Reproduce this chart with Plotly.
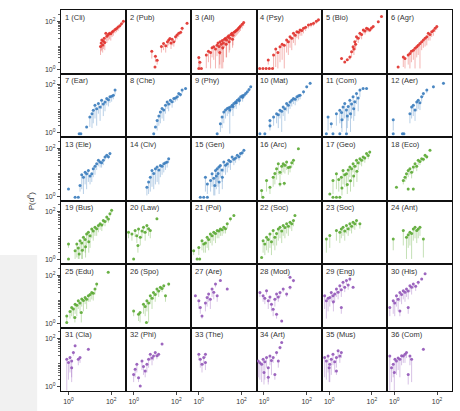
import plotly.graph_objects as go
from plotly.subplots import make_subplots

# ---- panel labels and colour groups ----
LABELS = ["1 (Cli)", "2 (Pub)", "3 (All)", "4 (Psy)", "5 (Bio)", "6 (Agr)",
          "7 (Ear)", "8 (Che)", "9 (Phy)", "10 (Mat)", "11 (Com)", "12 (Aer)",
          "13 (Ele)", "14 (Civ)", "15 (Gen)", "16 (Arc)", "17 (Geo)", "18 (Eco)",
          "19 (Bus)", "20 (Law)", "21 (Pol)", "22 (Soc)", "23 (Soc)", "24 (Ant)",
          "25 (Edu)", "26 (Spo)", "27 (Are)", "28 (Mod)", "29 (Eng)", "30 (His)",
          "31 (Cla)", "32 (Phi)", "33 (The)", "34 (Art)", "35 (Mus)", "36 (Com)"]
GROUPS = ["red"] * 6 + ["blue"] * 9 + ["green"] * 11 + ["purple"] * 10

X_TICKS = [1, 100]
X_TICK_TEXT = ["10<sup>0</sup>", "10<sup>2</sup>"]
Y_TICKS = [1, 100]
Y_TICK_TEXT = ["10<sup>0</sup>", "10<sup>2</sup>"]

# ---- data: log10 of x, log10 of y, log10 of lower end of error bar ----
p01_x = [1.50, 1.53, 1.56, 1.60, 1.63, 1.67, 1.70, 1.75, 1.80, 1.86, 1.92, 1.98, 2.04, 2.10, 2.18, 2.25, 2.32, 2.40, 2.48, 2.57]
p01_y = [0.95, 1.10, 1.22, 1.02, 1.18, 1.30, 1.12, 1.50, 1.38, 1.45, 1.50, 1.48, 1.56, 1.60, 1.66, 1.70, 1.76, 1.82, 1.90, 2.00]
p01_lo = [0.60, 0.75, 0.80, 0.70, 0.85, 0.95, 0.80, 1.20, 1.10, 1.20, 1.25, 1.20, 1.35, 1.40, 1.50, 1.55, 1.60, 1.70, 1.80, 1.90]

p02_x = [0.85, 1.00, 1.02, 1.10, 1.30, 1.40, 1.50, 1.58, 1.64, 1.70, 1.75, 1.80, 1.88, 1.96, 2.03, 2.11, 2.20, 2.27, 2.50]
p02_y = [0.75, 0.10, 0.55, 0.38, 0.95, 1.08, 0.98, 1.15, 1.22, 1.29, 1.10, 1.25, 1.15, 1.36, 1.43, 1.50, 1.55, 1.71, 1.92]
p02_lo = [0.45, 0.10, 0.30, 0.20, 0.70, 0.80, 0.70, 0.90, 1.00, 1.05, 0.85, 1.00, 0.95, 1.15, 1.25, 1.35, 1.45, 1.60, 1.85]

p03_x = [0.00, 0.00, 0.12, 0.05, 0.35, 0.45, 0.55, 0.62, 0.70, 0.78, 0.85, 0.90, 0.95, 1.00, 1.05, 1.10, 1.15, 1.20, 1.25, 1.30,
         1.35, 1.40, 1.45, 1.50, 1.55, 1.60, 1.65, 1.70, 1.75, 1.80, 1.85, 1.90, 1.95, 2.03, 2.10, 1.12, 1.28, 1.42, 1.58, 0.98]
p03_y = [0.04, 0.50, 0.04, 0.30, 0.60, 0.75, 0.70, 0.90, 0.94, 0.85, 1.00, 1.10, 0.95, 1.15, 1.05, 1.20, 1.10, 1.25, 1.30, 1.22,
         1.35, 1.40, 1.30, 1.45, 1.50, 1.42, 1.55, 1.58, 1.62, 1.65, 1.70, 1.75, 1.80, 1.88, 1.95, 0.90, 1.05, 1.15, 1.25, 0.70]
p03_lo = [0.04, 0.10, 0.04, 0.05, 0.05, 0.30, 0.04, 0.50, 0.40, 0.04, 0.55, 0.70, 0.04, 0.60, 0.04, 0.80, 0.30, 0.90, 1.00, 0.50,
          1.05, 1.10, 0.80, 1.20, 1.25, 1.00, 1.30, 1.35, 1.40, 1.45, 1.50, 1.55, 1.60, 1.70, 1.80, 0.04, 0.50, 0.70, 0.90, 0.20]

p04_x = [-0.20, -0.05, 0.10, 0.25, 0.40, 0.20, 0.45, 0.55, 0.65, 0.75, 0.85, 0.95, 1.06, 1.14, 1.22, 1.30, 1.38, 1.46, 1.54, 1.62,
         1.69, 1.77, 1.85, 1.95, 2.08, 2.20, 2.32, 2.45, 2.55]
p04_y = [0.04, 0.04, 0.04, 0.04, 0.04, 0.39, 0.60, 0.85, 0.70, 0.94, 1.05, 1.00, 1.22, 1.15, 1.36, 1.30, 1.50, 1.42, 1.57, 1.55,
         1.64, 1.62, 1.71, 1.75, 1.85, 1.88, 1.92, 2.00, 2.06]
p04_lo = [0.04, 0.04, 0.04, 0.04, 0.04, 0.20, 0.04, 0.10, 0.04, 0.30, 0.40, 0.04, 0.70, 0.60, 0.90, 0.80, 1.10, 1.00, 1.30, 1.25,
          1.40, 1.40, 1.50, 1.60, 1.70, 1.75, 1.80, 1.90, 1.98]

p05_x = [0.58, 0.73, 0.85, 0.97, 1.05, 1.12, 1.16, 1.20, 1.24, 1.28, 1.36, 1.44, 1.52, 1.60, 1.68, 1.75, 1.82, 1.90, 1.98, 2.06, 2.30, 2.45]
p05_y = [0.45, 0.31, 0.40, 0.52, 0.73, 0.94, 0.85, 1.15, 1.05, 1.36, 1.30, 1.50, 1.45, 1.64, 1.60, 1.71, 1.68, 1.64, 1.72, 1.78, 1.98, 2.20]
p05_lo = [0.40, 0.28, 0.35, 0.40, 0.50, 0.70, 0.60, 0.90, 0.80, 1.15, 1.10, 1.30, 1.25, 1.50, 1.45, 1.60, 1.55, 1.55, 1.62, 1.70, 1.92, 2.15]

p06_x = [0.18, 0.42, 0.50, 0.65, 0.73, 0.80, 0.89, 0.97, 1.05, 1.12, 1.20, 1.28, 1.36, 1.44, 1.52, 1.59, 1.67, 1.75, 1.83, 1.91, 1.99]
p06_y = [0.10, 0.52, 0.45, 0.60, 0.66, 0.75, 0.80, 0.88, 0.94, 1.00, 1.08, 1.15, 1.22, 1.30, 1.36, 1.50, 1.45, 1.57, 1.62, 1.71, 1.78]
p06_lo = [0.10, 0.10, 0.04, 0.20, 0.04, 0.30, 0.40, 0.04, 0.50, 0.60, 0.04, 0.80, 0.90, 0.95, 1.00, 1.20, 1.20, 1.35, 1.40, 1.55, 1.65]

p07_x = [0.50, 0.58, 0.85, 1.00, 1.10, 1.16, 1.24, 1.32, 1.40, 1.48, 1.55, 1.63, 1.71, 1.79, 1.87, 1.94, 2.02, 2.10, 2.18]
p07_y = [-0.03, -0.03, 0.25, 0.66, 0.80, 0.94, 1.15, 1.00, 1.22, 1.08, 1.36, 1.20, 1.29, 1.43, 1.38, 1.50, 1.52, 1.57, 1.78]
p07_lo = [-0.03, -0.03, 0.20, 0.25, 0.20, 0.40, 0.60, 0.30, 0.80, 0.50, 1.00, 0.70, 0.90, 1.15, 1.10, 1.25, 1.30, 1.40, 1.60]

p08_x = [0.94, 1.02, 1.10, 1.18, 1.25, 1.33, 1.41, 1.49, 1.57, 1.64, 1.72, 1.80, 1.88, 1.96, 2.04, 2.11, 2.19, 2.27, 2.43]
p08_y = [-0.03, 0.25, 0.52, 0.70, 0.87, 1.01, 0.95, 1.15, 1.29, 1.20, 1.36, 1.30, 1.43, 1.45, 1.50, 1.64, 1.60, 1.78, 1.85]
p08_lo = [-0.03, 0.20, 0.10, 0.30, 0.40, 0.60, 0.50, 0.80, 1.00, 0.90, 1.15, 1.05, 1.25, 1.30, 1.35, 1.50, 1.50, 1.65, 1.78]

p09_x = [0.86, 1.01, 1.09, 1.17, 1.25, 1.33, 1.40, 1.48, 1.56, 1.64, 1.72, 1.80, 1.88, 1.96, 2.04, 2.11, 2.19, 2.27, 2.35, 2.43,
         1.45, 1.60, 1.75, 1.90, 2.05]
p09_y = [-0.03, 0.38, 0.66, 0.87, 0.95, 1.01, 1.05, 1.08, 1.15, 1.22, 1.28, 1.36, 1.42, 1.50, 1.54, 1.57, 1.64, 1.71, 1.80, 1.92,
         0.95, 1.10, 1.25, 1.35, 1.48]
p09_lo = [-0.03, 0.04, 0.20, 0.40, 0.60, 0.70, 0.80, 0.85, 0.95, 1.00, 1.10, 1.20, 1.25, 1.35, 1.40, 1.45, 1.52, 1.60, 1.70, 1.85,
          -0.03, 0.70, 1.00, 1.15, 1.30]

p10_x = [-0.19, 0.04, 0.28, 0.28, 0.45, 0.59, 0.67, 0.75, 0.83, 0.90, 0.98, 1.06, 1.14, 1.22, 1.30, 1.38, 1.46, 1.54, 1.62, 1.69,
         1.85, 2.00, 2.16]
p10_y = [-0.03, -0.03, 0.52, 0.30, 0.66, 0.80, 0.75, 0.94, 0.90, 1.08, 1.00, 1.22, 1.15, 1.29, 1.36, 1.43, 1.40, 1.50, 1.55, 1.57,
         1.71, 1.92, 2.06]
p10_lo = [-0.03, -0.03, 0.10, 0.20, 0.30, 0.40, 0.20, 0.60, 0.04, 0.70, 0.50, 0.90, 0.80, 1.00, 1.10, 1.20, 1.15, 1.30, 1.35, 1.40,
          1.60, 1.85, 2.00]

p11_x = [-0.13, 0.18, 0.50, 0.81, -0.05, 0.10, 0.34, 0.50, 0.58, 0.65, 0.73, 0.81, 0.89, 0.97, 1.05, 1.12, 1.20, 1.28, 1.36, 1.44,
         1.59, 1.75, 0.60, 0.85, 1.00, 1.15]
p11_y = [-0.03, -0.03, -0.03, -0.03, 0.66, 0.38, 0.80, 0.94, 0.85, 1.08, 1.22, 0.95, 1.10, 1.36, 1.20, 1.50, 1.30, 1.64, 1.45, 1.78,
         1.85, 1.85, 0.55, 0.70, 0.80, 1.00]
p11_lo = [-0.03, -0.03, -0.03, -0.03, 0.10, 0.20, 0.30, 0.40, 0.20, 0.50, 0.60, 0.04, 0.50, 0.80, 0.60, 1.00, 0.70, 1.20, 0.90, 1.50,
          1.80, 1.80, 0.04, 0.20, 0.04, 0.50]

p12_x = [-0.05, -0.05, 0.38, 0.45, 0.73, 0.81, 0.89, 0.97, 1.05, 1.12, 1.20, 1.28, 1.36, 1.52, 1.83, 2.30]
p12_y = [-0.03, 0.55, -0.03, -0.03, 0.80, 1.08, 1.15, 0.95, 1.29, 1.36, 1.25, 1.50, 1.64, 1.78, 1.92, 2.06]
p12_lo = [-0.03, 0.10, -0.03, -0.03, 0.40, 0.60, 0.70, 0.50, 0.90, 1.00, 0.95, 1.30, 1.50, 1.65, 1.85, 2.00]

p13_x = [0.00, 0.31, 0.46, 0.54, 0.62, 0.70, 0.78, 0.85, 0.93, 1.01, 1.09, 1.16, 1.24, 1.32, 1.40, 1.48, 1.55, 1.63, 1.71, 1.79, 1.87, 1.94]
p13_y = [0.31, -0.03, -0.03, 0.45, 0.90, 0.80, 1.00, 0.94, 1.08, 0.85, 0.94, 1.15, 1.25, 1.36, 1.50, 1.43, 1.40, 1.50, 1.64, 1.71, 1.65, 1.78]
p13_lo = [0.31, -0.03, -0.03, 0.20, 0.30, 0.10, 0.50, 0.30, 0.60, 0.50, 0.60, 0.80, 0.90, 1.10, 1.25, 1.20, 1.20, 1.30, 1.50, 1.60, 1.55, 1.70]

p14_x = [0.62, 0.70, 0.78, 0.86, 0.94, 1.02, 1.10, 1.18, 1.25, 1.33, 1.41, 1.49, 1.57, 1.64]
p14_y = [0.38, 0.60, 0.80, 1.08, 0.95, 1.15, 1.22, 1.10, 1.29, 1.25, 1.36, 1.40, 1.43, 1.57]
p14_lo = [0.04, 0.10, 0.20, 0.40, 0.30, 0.50, 0.60, 0.50, 0.80, 0.90, 1.00, 1.10, 1.20, 1.40]

p15_x = [0.07, 0.23, 0.40, 0.31, 0.40, 0.55, 0.62, 0.70, 0.78, 0.82, 0.86, 0.90, 0.94, 1.01, 1.09, 1.17, 1.25, 1.33, 1.40, 1.48,
         1.56, 1.64, 1.72, 1.80, 1.88, 1.95, 2.03, 2.11, 0.75, 0.95, 1.10]
p15_y = [-0.03, -0.03, -0.03, 0.80, 0.52, 0.66, 0.94, 0.75, 1.08, 0.85, 1.15, 0.95, 1.22, 1.29, 1.10, 1.43, 1.30, 1.36, 1.50, 1.45,
         1.64, 1.55, 1.60, 1.71, 1.65, 1.78, 1.82, 1.92, 0.45, 0.60, 0.80]
p15_lo = [-0.03, -0.03, -0.03, 0.20, 0.10, 0.20, 0.40, 0.04, 0.50, 0.30, 0.60, 0.40, 0.70, 0.80, 0.60, 1.00, 0.90, 1.00, 1.20, 1.10,
          1.40, 1.30, 1.40, 1.55, 1.50, 1.65, 1.70, 1.85, 0.04, 0.10, 0.30]

p16_x = [-0.11, -0.05, 0.12, 0.28, 0.43, 0.51, 0.59, 0.67, 0.75, 0.75, 0.83, 0.90, 0.98, 1.06, 1.14, 1.22, 1.30, 1.38, 1.61, 0.95]
p16_y = [0.25, -0.03, 0.66, 0.38, 0.80, 0.95, 1.15, 1.36, 1.00, 0.52, 1.25, 1.36, 1.30, 1.43, 1.20, 1.22, 1.40, 1.50, 1.98, 0.55]
p16_lo = [-0.03, -0.03, 0.20, 0.10, 0.40, 0.50, 0.70, 0.90, 0.60, 0.40, 0.90, 1.00, 0.95, 1.10, 0.90, 1.00, 1.20, 1.30, 1.95, 0.45]

p17_x = [0.03, 0.18, 0.34, 0.50, 0.18, 0.34, 0.45, 0.57, 0.65, 0.73, 0.81, 0.89, 0.97, 1.05, 1.12, 1.20, 1.28, 1.36, 1.44, 1.52,
         1.59, 1.67, 1.75, 1.83, 1.90, 0.60, 0.85, 1.00, 1.15, 1.30]
p17_y = [0.10, -0.03, -0.03, -0.03, 0.66, 0.94, 0.70, 0.80, 1.08, 0.90, 0.94, 1.10, 1.22, 1.15, 1.36, 1.25, 1.50, 1.40, 1.57, 1.50,
         1.64, 1.60, 1.78, 1.70, 1.85, 0.35, 0.50, 0.65, 0.85, 1.05]
p17_lo = [0.10, -0.03, -0.03, -0.03, 0.10, 0.30, 0.20, 0.30, 0.50, 0.40, 0.40, 0.60, 0.80, 0.70, 1.00, 0.90, 1.20, 1.10, 1.30, 1.25,
          1.45, 1.40, 1.65, 1.55, 1.75, 0.04, 0.10, 0.20, 0.40, 0.60]

p18_x = [0.10, 0.42, 0.50, 0.57, 0.65, 0.65, 0.73, 0.81, 0.89, 0.97, 1.05, 1.12, 1.20, 1.28, 1.36, 1.44, 1.52, 1.67, 0.89]
p18_y = [0.38, 0.66, 0.80, 0.94, 1.08, 0.31, 1.15, 1.00, 1.22, 1.36, 1.25, 1.50, 1.45, 1.57, 1.55, 1.71, 1.65, 1.92, 0.31]
p18_lo = [0.38, 0.50, 0.60, 0.70, 0.80, 0.25, 0.90, 0.75, 1.00, 1.15, 1.05, 1.30, 1.30, 1.45, 1.45, 1.60, 1.55, 1.88, 0.25]

p19_x = [0.00, 0.00, 0.31, 0.39, 0.46, 0.54, 0.62, 0.70, 0.78, 0.85, 0.93, 1.01, 1.09, 1.16, 1.24, 1.32, 1.40, 1.48, 1.56, 1.63,
         1.71, 1.79, 1.87, 1.94, 2.02, 0.50, 0.65, 0.80, 0.95]
p19_y = [0.66, 0.04, 0.38, 0.66, 0.50, 0.80, 0.70, 0.94, 0.85, 1.08, 1.15, 1.00, 1.29, 1.20, 1.36, 1.30, 1.43, 1.50, 1.45, 1.64,
         1.60, 1.78, 1.70, 1.92, 2.06, 0.25, 0.40, 0.55, 0.75]
p19_lo = [0.50, 0.04, 0.04, 0.10, 0.04, 0.30, 0.04, 0.40, 0.30, 0.60, 0.70, 0.50, 0.90, 0.80, 1.00, 1.00, 1.15, 1.25, 1.20, 1.45,
          1.40, 1.60, 1.55, 1.80, 1.95, 0.04, 0.04, 0.10, 0.30]

p20_x = [-0.24, -0.08, 0.00, 0.07, 0.15, 0.23, 0.31, 0.39, 0.46, 0.54, 0.62, 0.70, 0.78, 1.09, 0.20]
p20_y = [1.15, 1.08, 0.04, 1.22, 1.00, 1.29, 0.94, 1.20, 1.36, 1.15, 1.43, 1.30, 1.22, 1.71, 0.60]
p20_lo = [0.90, 0.80, 0.04, 0.95, 0.70, 1.05, 0.60, 0.90, 1.10, 0.80, 1.20, 1.00, 0.90, 1.65, 0.30]

p21_x = [-0.24, -0.08, 0.04, 0.00, 0.15, 0.23, 0.31, 0.39, 0.46, 0.54, 0.62, 0.70, 0.78, 0.86, 0.94, 1.01, 1.09, 1.17, 1.25, 1.33, 1.48, 1.64]
p21_y = [0.38, 0.04, 0.04, 0.52, 0.80, 0.66, 0.70, 0.94, 0.85, 1.08, 1.00, 1.15, 1.10, 1.22, 1.20, 1.29, 1.25, 1.36, 1.30, 1.50, 1.71, 1.85]
p21_lo = [0.20, 0.04, 0.04, 0.20, 0.40, 0.30, 0.30, 0.50, 0.40, 0.70, 0.60, 0.80, 0.70, 0.90, 0.90, 1.00, 1.00, 1.10, 1.10, 1.30, 1.60, 1.80]

p22_x = [-0.11, -0.04, 0.04, 0.12, 0.20, 0.28, 0.35, 0.43, 0.51, 0.59, 0.67, 0.75, 0.83, 0.90, 0.98, 1.06, 1.14, 1.22, 1.30, 1.38, 1.45]
p22_y = [0.10, 0.80, 0.66, 0.94, 0.85, 1.08, 0.75, 1.22, 0.94, 1.10, 1.29, 1.36, 1.20, 1.43, 1.35, 1.50, 1.40, 1.57, 1.50, 1.64, 1.85]
p22_lo = [0.10, 0.30, 0.20, 0.40, 0.30, 0.50, 0.20, 0.60, 0.40, 0.60, 0.80, 0.90, 0.70, 1.00, 0.90, 1.10, 1.00, 1.30, 1.20, 1.40, 1.80]

p23_x = [-0.13, 0.03, 0.34, 0.50, 0.57, 0.65, 0.73, 0.81, 0.89, 0.97, 1.05, 1.12, 1.20, 1.28, 1.44]
p23_y = [0.87, 1.01, 1.22, 1.15, 1.29, 1.36, 1.20, 1.43, 1.30, 1.50, 1.40, 1.57, 1.50, 1.64, 1.50]
p23_lo = [0.30, 0.50, 0.80, 0.70, 0.90, 1.00, 0.80, 1.10, 1.00, 1.20, 1.10, 1.30, 1.25, 1.40, 1.30]

p24_x = [-0.05, 0.42, 0.57, 0.65, 0.73, 0.81, 0.89, 0.97, 1.05, 1.12, 1.20, 1.36]
p24_y = [0.87, 1.22, 0.94, 1.05, 1.15, 1.10, 1.29, 1.36, 1.22, 1.29, 1.36, 0.87]
p24_lo = [0.40, 0.60, 0.04, 0.50, 0.60, 0.04, 0.80, 0.90, 0.70, 0.90, 1.00, 0.10]

p25_x = [-0.08, -0.08, 0.07, 0.15, 0.23, 0.31, 0.39, 0.46, 0.54, 0.62, 0.70, 0.78, 0.85, 0.93, 1.01, 1.09, 1.16, 1.24, 1.32, 1.86, 0.30, 0.60]
p25_y = [0.31, 0.04, 0.50, 0.66, 0.60, 0.80, 0.75, 0.94, 0.85, 1.01, 0.95, 1.08, 1.00, 1.15, 1.20, 1.29, 1.25, 1.43, 1.64, 2.13, 0.25, 0.45]
p25_lo = [0.10, 0.04, 0.20, 0.30, 0.20, 0.40, 0.30, 0.60, 0.40, 0.70, 0.50, 0.80, 0.60, 0.90, 0.90, 1.00, 0.95, 1.20, 1.50, 2.10, 0.04, 0.04]

p26_x = [0.00, 0.23, 0.30, 0.46, 0.54, 0.62, 0.70, 0.78, 0.86, 0.93, 1.01, 1.09, 1.17, 1.25, 1.33, 1.41, 1.49, 1.64, 0.60]
p26_y = [0.52, 0.38, 0.45, 0.80, 0.70, 0.94, 0.85, 1.15, 1.05, 1.29, 1.20, 1.43, 1.35, 1.50, 1.45, 1.57, 1.15, 1.64, 0.04]
p26_lo = [0.30, 0.10, 0.04, 0.40, 0.30, 0.50, 0.04, 0.80, 0.60, 1.00, 0.90, 1.20, 1.10, 1.35, 1.30, 1.45, 0.90, 1.55, 0.04]

p27_x = [-0.16, 0.00, 0.07, 0.15, 0.31, 0.39, 0.46, 0.54, 0.62, 0.70, 0.78, 0.86, 1.01, 1.33]
p27_y = [1.15, 0.94, 0.66, 0.31, 0.85, 1.08, 1.22, 1.00, 1.43, 1.30, 1.64, 1.15, 1.78, 1.43]
p27_lo = [1.10, 0.60, 0.40, 0.20, 0.50, 0.70, 0.90, 0.60, 1.10, 1.00, 1.50, 0.90, 1.75, 1.40]

p28_x = [-0.19, -0.04, 0.04, 0.12, 0.20, 0.28, 0.35, 0.43, 0.51, 0.59, 0.59, 0.67, 0.75, 0.83, 0.90, 1.06, 1.22, 1.22, 1.38]
p28_y = [1.29, 1.15, 1.05, 1.36, 0.94, 1.10, 0.80, 0.59, 1.00, 0.38, 1.22, 1.10, 1.29, 0.10, 1.43, 1.22, 1.50, 1.92, 1.78]
p28_lo = [1.10, 0.90, 0.80, 1.20, 0.60, 0.90, 0.50, 0.30, 0.70, 0.20, 1.00, 0.90, 1.10, 0.05, 1.30, 1.10, 1.40, 1.88, 1.70]

p29_x = [-0.21, -0.13, -0.05, 0.03, 0.10, 0.18, 0.26, 0.34, 0.42, 0.50, 0.57, 0.65, 0.73, 0.81, 0.89, 0.97, 1.12, 0.57, 0.20]
p29_y = [1.15, 0.94, 1.05, 1.08, 1.29, 1.15, 1.22, 1.43, 1.30, 1.57, 0.66, 1.71, 1.50, 1.78, 1.60, 1.85, 1.50, 1.40, 0.90]
p29_lo = [0.60, 0.20, 0.50, 0.70, 0.90, 0.80, 0.90, 1.10, 1.00, 1.30, 0.40, 1.50, 1.30, 1.60, 1.40, 1.75, 1.45, 1.10, 0.50]

p30_x = [-0.21, -0.05, 0.02, 0.10, 0.18, 0.26, 0.34, 0.42, 0.50, 0.57, 0.65, 0.73, 0.81, 0.89, 1.00, 1.12, 1.28, 1.44, 0.26, 0.65]
p30_y = [0.66, 0.94, 0.85, 1.15, 1.00, 1.29, 1.20, 1.36, 1.30, 1.43, 1.35, 1.57, 1.50, 1.64, 1.55, 1.71, 1.85, 2.06, 0.52, 0.66]
p30_lo = [0.30, 0.40, 0.30, 0.70, 0.50, 0.90, 0.80, 1.00, 0.90, 1.10, 1.00, 1.30, 1.20, 1.45, 1.35, 1.60, 1.80, 2.02, 0.30, 0.40]

p31_x = [-0.08, 0.00, 0.07, 0.15, 0.15, 0.23, 0.31, 0.46, 0.54, 0.93]
p31_y = [1.15, 1.01, 1.22, 1.08, 0.80, 1.43, 1.71, 1.15, 1.22, 1.57]
p31_lo = [-0.15, 0.30, 0.60, 0.40, 0.20, 1.30, 1.65, 0.90, 1.00, 1.50]

p32_x = [0.00, 0.07, 0.15, 0.23, 0.31, 0.39, 0.46, 0.54, 0.62, 0.70, 0.78, 0.86, 0.93, 1.01, 1.09, 1.17, 1.33]
p32_y = [0.52, 0.73, 0.94, 0.38, 0.04, 1.08, 0.85, 0.66, 0.94, 1.15, 1.36, 1.20, 1.29, 1.43, 1.30, 1.36, 1.78]
p32_lo = [0.20, 0.40, 0.60, 0.20, 0.04, 0.70, 0.50, 0.40, 0.60, 0.80, 1.10, 0.90, 1.10, 1.30, 1.15, 1.25, 1.75]

p33_x = [0.00, 0.07, 0.15, 0.23, 0.31, 0.31]
p33_y = [1.36, 1.15, 0.94, 1.22, 1.01, 1.36]
p33_lo = [1.10, 0.80, 0.60, 0.90, 0.70, 1.20]

p34_x = [-0.27, -0.19, -0.11, -0.04, 0.04, 0.12, 0.20, 0.28, 0.35, 0.43, 0.51, 0.59, 0.67, 0.75, 0.83, 0.00, 0.20]
p34_y = [1.08, 1.00, 0.94, 1.15, 1.05, 1.22, 0.80, 1.29, 1.10, 1.22, 0.52, 1.43, 1.08, 1.64, 1.85, 0.60, 0.40]
p34_lo = [0.40, 0.30, 0.20, 0.60, 0.30, 0.80, 0.20, 0.90, 0.50, 1.00, 0.30, 1.30, 0.80, 1.55, 1.80, 0.10, 0.10]

p35_x = [-0.21, -0.13, -0.05, 0.03, 0.10, 0.18, 0.26, 0.34, 0.42, 0.50, 0.57, 0.34, 0.00]
p35_y = [1.22, 1.08, 1.29, 0.94, 1.15, 1.36, 1.05, 1.22, 1.50, 1.29, 1.43, 0.66, 0.80]
p35_lo = [0.40, 0.30, 0.60, 0.20, 0.50, 0.90, 0.60, 0.80, 1.20, 1.00, 1.20, 0.50, 0.20]

p36_x = [-0.21, -0.13, -0.05, 0.03, 0.10, 0.18, 0.26, 0.34, 0.42, 0.50, 0.57, 0.65, 0.73, 0.81, 1.36, 0.00]
p36_y = [1.29, 0.80, 0.94, 1.15, 1.08, 1.20, 1.15, 1.30, 1.29, 1.36, 1.43, 0.52, 1.29, 1.15, 1.57, 0.60]
p36_lo = [-0.15, 0.20, 0.40, 0.60, 0.50, 0.70, 0.40, 0.90, 1.00, 1.00, 1.20, 0.10, 0.90, 0.20, 1.50, -0.15]

PANELS = [
    (p01_x, p01_y, p01_lo), (p02_x, p02_y, p02_lo), (p03_x, p03_y, p03_lo),
    (p04_x, p04_y, p04_lo), (p05_x, p05_y, p05_lo), (p06_x, p06_y, p06_lo),
    (p07_x, p07_y, p07_lo), (p08_x, p08_y, p08_lo), (p09_x, p09_y, p09_lo),
    (p10_x, p10_y, p10_lo), (p11_x, p11_y, p11_lo), (p12_x, p12_y, p12_lo),
    (p13_x, p13_y, p13_lo), (p14_x, p14_y, p14_lo), (p15_x, p15_y, p15_lo),
    (p16_x, p16_y, p16_lo), (p17_x, p17_y, p17_lo), (p18_x, p18_y, p18_lo),
    (p19_x, p19_y, p19_lo), (p20_x, p20_y, p20_lo), (p21_x, p21_y, p21_lo),
    (p22_x, p22_y, p22_lo), (p23_x, p23_y, p23_lo), (p24_x, p24_y, p24_lo),
    (p25_x, p25_y, p25_lo), (p26_x, p26_y, p26_lo), (p27_x, p27_y, p27_lo),
    (p28_x, p28_y, p28_lo), (p29_x, p29_y, p29_lo), (p30_x, p30_y, p30_lo),
    (p31_x, p31_y, p31_lo), (p32_x, p32_y, p32_lo), (p33_x, p33_y, p33_lo),
    (p34_x, p34_y, p34_lo), (p35_x, p35_y, p35_lo), (p36_x, p36_y, p36_lo),
]

# ---- styles ----
MARKER_COLORS = {"red": "#e0302a", "blue": "#3a7cbd", "green": "#5aa832", "purple": "#9257b8"}
BAR_COLORS = {"red": "rgba(224,48,42,0.45)", "blue": "rgba(58,124,189,0.45)",
              "green": "rgba(90,168,50,0.45)", "purple": "rgba(146,87,184,0.45)"}
FONT = "Liberation Sans, Arial, sans-serif"
X_RANGE = [-0.35, 2.7]
Y_RANGE = [-0.17, 2.47]
MINOR_Y = [2, 3, 4, 5, 6, 7, 8, 9, 20, 30, 40, 50, 60, 70, 80, 90, 200]

fig = make_subplots(rows=6, cols=6, horizontal_spacing=0, vertical_spacing=0)

for i, (lx, ly, llo) in enumerate(PANELS):
    r, c = i // 6 + 1, i % 6 + 1
    xs, ys, minus = [], [], []
    for a, b, lo in zip(lx, ly, llo, strict=True):
        xs.append(10 ** a)
        ys.append(10 ** b)
        minus.append(max(0.0, 10 ** b - 10 ** lo))
    g = GROUPS[i]
    fig.add_trace(go.Scatter(
        x=xs, y=ys, mode="markers",
        marker=dict(size=3, color=MARKER_COLORS[g], opacity=0.9, line=dict(width=0)),
        error_y=dict(type="data", symmetric=False, array=[0] * len(ys), arrayminus=minus,
                     color=BAR_COLORS[g], thickness=0.8, width=0),
        showlegend=False, hoverinfo="skip"), row=r, col=c)
    fig.add_annotation(text=LABELS[i], xref="x domain" if i == 0 else f"x{i + 1} domain",
                       yref="y domain" if i == 0 else f"y{i + 1} domain",
                       x=0.03, y=0.985, xanchor="left", yanchor="top", showarrow=False,
                       font=dict(size=7.5, color="#333333", family=FONT))

fig.update_xaxes(type="log", range=X_RANGE, showgrid=False, zeroline=False,
                 showline=True, mirror=True, linecolor="#111111", linewidth=1.2,
                 ticks="", showticklabels=False, automargin=False)
fig.update_yaxes(type="log", range=Y_RANGE, showgrid=False, zeroline=False,
                 showline=True, mirror=True, linecolor="#111111", linewidth=1.2,
                 ticks="", showticklabels=False, automargin=False)
fig.update_xaxes(row=6, ticks="outside", ticklen=3, tickwidth=0.8, tickcolor="#444444",
                 tickmode="array", tickvals=X_TICKS, ticktext=X_TICK_TEXT, showticklabels=True,
                 tickfont=dict(size=7, color="#333333", family=FONT))
fig.update_yaxes(col=1, ticks="outside", ticklen=3, tickwidth=0.8, tickcolor="#444444",
                 tickmode="array", tickvals=Y_TICKS, ticktext=Y_TICK_TEXT, showticklabels=True,
                 tickfont=dict(size=7, color="#333333", family=FONT),
                 minor=dict(ticks="outside", ticklen=1.5, tickwidth=0.6, tickcolor="#666666",
                            tickvals=MINOR_Y, showgrid=False))

fig.add_annotation(text="P(d<sup>e</sup>)", xref="paper", yref="paper", x=-0.08, y=0.5,
                   textangle=-90, showarrow=False, xanchor="center", yanchor="middle",
                   font=dict(size=8, color="#333333", family=FONT))

fig.add_shape(type="rect", xref="paper", yref="paper", x0=-0.16, x1=-0.061, y0=-0.06, y1=0.357,
              fillcolor="#f1f1f1", line=dict(width=0), layer="below")

fig.update_layout(width=460, height=411, margin=dict(l=61, r=8, t=10, b=20, autoexpand=False),
                  paper_bgcolor="white", plot_bgcolor="white",
                  font=dict(family=FONT))

fig.write_html("out.html", config={"displayModeBar": False},
               post_script="document.body.style.margin='0';document.body.style.padding='0';")
